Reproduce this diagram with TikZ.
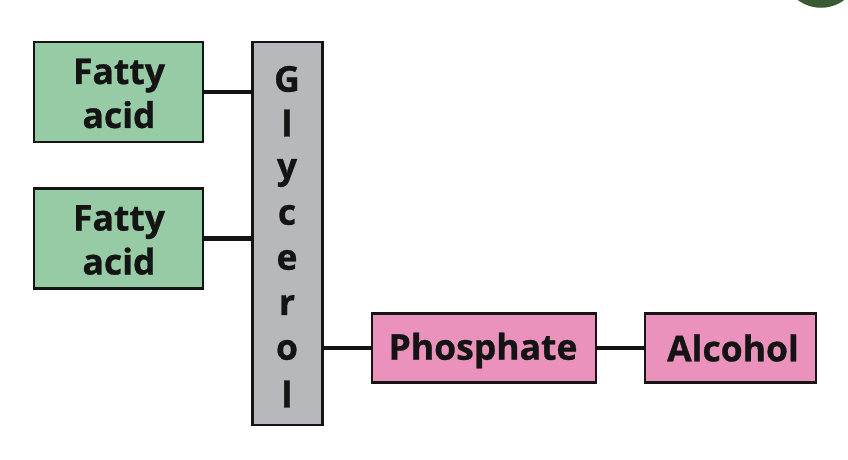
\documentclass[tikz,border=0pt]{standalone}
\usepackage{fontspec}
\setmainfont[FakeBold=0.8]{Open Sans}
\definecolor{grn}{HTML}{96CBA5}
\definecolor{pnk}{HTML}{EB92BC}
\definecolor{gry}{HTML}{B7B8BC}
\definecolor{dk}{HTML}{141414}
\definecolor{ringc}{HTML}{3B5A32}
\tikzset{x=1pt,y=-1pt,
 box/.style={draw=dk,line width=2.2pt,inner sep=0pt,align=center,font=\fontsize{35.5}{44}\selectfont\bfseries,text=dk},
 conn/.style={draw=dk,line width=4.4pt},
 let/.style={font=\fontsize{35.5}{35.5}\selectfont\bfseries,text=dk,inner sep=0pt}}
\begin{document}
\begin{tikzpicture}
\useasboundingbox (0,0) rectangle (848,460);
\begin{scope}
\clip (0,0) rectangle (848,460);
\draw[ringc,line width=7.5pt] (821,-31) circle (35);
\end{scope}
\node[box,fill=grn,minimum width=169pt,minimum height=100pt] (f1) at (118.5,92) {};
\node[box,fill=grn,minimum width=169pt,minimum height=100pt] (f2) at (118.5,238.5) {};
\node[box,fill=gry,minimum width=70pt,minimum height=383pt] (g) at (287.5,233.5) {};
\node[box,fill=pnk,minimum width=224pt,minimum height=69pt] (p) at (484,348) {};
\node[box,fill=pnk,minimum width=171pt,minimum height=69pt] (a) at (730.5,348) {};
\node[let,align=center,font=\fontsize{35.5}{44}\selectfont\bfseries] (t1) at (119,93.5) {Fatty\\acid};
\node[let,align=center,font=\fontsize{35.5}{44}\selectfont\bfseries] (t2) at (119,240) {Fatty\\acid};
\node[let] (t3) at (483,350.5) {Phosphate};
\node[let] (t4) at (733,348) {Alcohol};
\foreach \c/\y/\n in {G/79/g1,l/123/g2,y/173/g3,c/215/g4,e/260/g5,r/305/g6,o/350/g7,l/394/g8}
  \node[let] (\n) at (287,\y) {\c};
\draw[conn] (f1.east) -- (f1.east -| g.west);
\draw[conn] (f2.east) -- (f2.east -| g.west);
\draw[conn] (p.west -| g.east) -- (p.west);
\draw[conn] (p.east) -- (a.west);
\end{tikzpicture}
\end{document}
